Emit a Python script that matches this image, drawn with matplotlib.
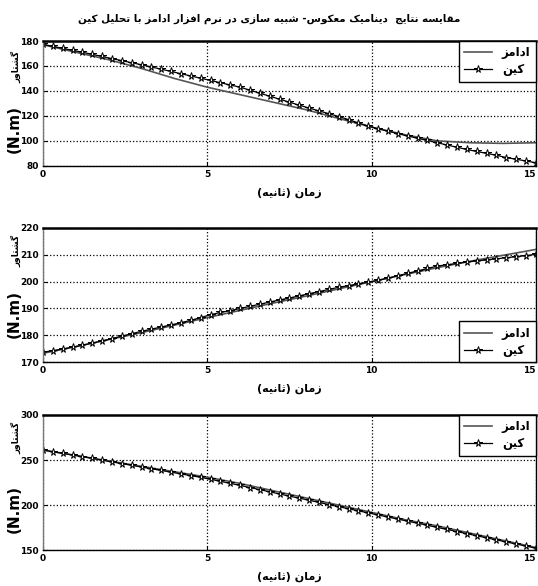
import re
import matplotlib
matplotlib.use('Agg')
import matplotlib.pyplot as plt

# ---- data -----------------------------------------------------------------
t_adams = [0, 1, 2, 3, 4, 5, 6, 7, 8, 9, 10, 11, 12, 13, 14, 15]
t_kane = [round(0.3 * i, 1) for i in range(51)]

adams_1 = [177, 171, 165, 158, 150, 143, 137, 131, 125, 118, 111, 105, 100, 98.5, 98, 98.5]
kane_1 = [177.3, 175.7, 174.1, 172.5, 171.0, 169.3, 167.6, 165.9, 164.3, 162.6, 161.0,
          159.2, 157.4, 155.6, 153.8, 152.0, 150.2, 148.4, 146.6, 144.8, 143.0,
          140.6, 138.2, 135.8, 133.4, 131.0, 128.6, 126.3, 124.0, 121.8, 119.5,
          117.0, 114.4, 111.9, 109.7, 107.8, 105.8, 103.9, 102.1, 100.3, 98.5,
          96.7, 94.9, 93.1, 91.5, 90.0, 88.5, 86.6, 85.3, 83.9, 82.5]

adams_2 = [173.3, 175.8, 178.4, 181, 183.8, 186.6, 189.3, 192, 194.6, 197.3, 200,
           202.6, 205.2, 207.6, 209.8, 212]
kane_2 = [173.7, 174.3, 174.9, 175.6, 176.3, 177.1, 177.9, 178.8, 179.7, 180.6, 181.5,
          182.3, 183.1, 183.9, 184.7, 185.6, 186.6, 187.7, 188.5, 189.2, 190.0,
          190.8, 191.6, 192.4, 193.2, 193.9, 194.7, 195.5, 196.3, 197.1, 197.9,
          198.5, 199.2, 199.8, 200.5, 201.3, 202.2, 203.1, 204.0, 204.9, 205.8,
          206.3, 206.8, 207.3, 207.7, 208.1, 208.5, 208.9, 209.3, 209.7, 210.2]

adams_3 = [261, 255, 249, 243, 237, 231, 224, 216, 208, 200, 192, 184, 177, 169, 161, 153]
kane_3 = [261.0, 259.2, 257.4, 255.6, 253.8, 251.8, 249.8, 247.9, 246.0, 244.1, 242.2,
          240.3, 238.4, 236.5, 234.6, 232.7, 230.8, 228.6, 226.4, 224.1, 221.8,
          219.5, 217.2, 214.8, 212.4, 210.0, 207.7, 205.4, 203.0, 200.6, 198.3,
          196.0, 193.7, 191.4, 189.1, 186.8, 184.5, 182.2, 179.9, 177.6, 175.3,
          173.0, 170.7, 168.4, 166.1, 163.8, 161.5, 159.2, 156.9, 154.6, 152.3]

ylims = [(80, 180), (170, 220), (150, 300)]
yticks = [[80, 100, 120, 140, 160, 180],
          [170, 180, 190, 200, 210, 220],
          [150, 200, 250, 300]]
xticks = [0, 5, 10, 15]
legend_loc = ['upper right', 'lower right', 'upper right']

title_text = 'مقایسه نتایج  دینامیک معکوس- شبیه سازی در نرم افزار ادامز با تحلیل کین'
xlabel_text = 'زمان (ثانیه)'
ylabel_fa = 'گشتاور'
ylabel_unit = '(N.m)'
label_adams = 'ادامز'
label_kane = 'کین'

# ---- minimal persian shaping (matplotlib has no bidi/joining) --------------
FORMS = {
    'ا': ('\uFE8D', '\uFE8E'),
    'د': ('\uFEA9', '\uFEAA'),
    'ر': ('\uFEAD', '\uFEAE'),
    'ز': ('\uFEAF', '\uFEB0'),
    'و': ('\uFEED', '\uFEEE'),
    'ب': ('\uFE8F', '\uFE90', '\uFE91', '\uFE92'),
    'ت': ('\uFE95', '\uFE96', '\uFE97', '\uFE98'),
    'ث': ('\uFE99', '\uFE9A', '\uFE9B', '\uFE9C'),
    'ج': ('\uFE9D', '\uFE9E', '\uFE9F', '\uFEA0'),
    'ح': ('\uFEA1', '\uFEA2', '\uFEA3', '\uFEA4'),
    'س': ('\uFEB1', '\uFEB2', '\uFEB3', '\uFEB4'),
    'ش': ('\uFEB5', '\uFEB6', '\uFEB7', '\uFEB8'),
    'ع': ('\uFEC9', '\uFECA', '\uFECB', '\uFECC'),
    'ف': ('\uFED1', '\uFED2', '\uFED3', '\uFED4'),
    'ق': ('\uFED5', '\uFED6', '\uFED7', '\uFED8'),
    'ل': ('\uFEDD', '\uFEDE', '\uFEDF', '\uFEE0'),
    'م': ('\uFEE1', '\uFEE2', '\uFEE3', '\uFEE4'),
    'ن': ('\uFEE5', '\uFEE6', '\uFEE7', '\uFEE8'),
    'ه': ('\uFEE9', '\uFEEA', '\uFEEB', '\uFEEC'),
    'ی': ('\uFBFC', '\uFBFD', '\uFBFE', '\uFBFF'),
    'ک': ('\uFB8E', '\uFB8F', '\uFB90', '\uFB91'),
    'گ': ('\uFB92', '\uFB93', '\uFB94', '\uFB95'),
}


def fa(text):
    out = []
    for i, c in enumerate(text):
        if c not in FORMS:
            out.append(c)
            continue
        f = FORMS[c]
        prev = text[i - 1] if i > 0 else ''
        nxt = text[i + 1] if i + 1 < len(text) else ''
        jp = prev in FORMS and len(FORMS[prev]) == 4
        jn = len(f) == 4 and nxt in FORMS
        if jp and jn:
            out.append(f[3])
        elif jp:
            out.append(f[1])
        elif jn:
            out.append(f[2])
        else:
            out.append(f[0])
    s = ''.join(out)[::-1].translate(str.maketrans('()', ')('))
    return re.sub(r'[A-Za-z0-9.]+', lambda m: m.group(0)[::-1], s)


# ---- figure ---------------------------------------------------------------
tick_font = ['DejaVu Sans']
fa_font = ['DejaVu Sans']

fig = plt.figure(figsize=(5.38, 5.86), dpi=100)
fig.patch.set_facecolor('white')

axes_pos = [
    [0.080, 0.717, 0.916, 0.213],
    [0.080, 0.382, 0.916, 0.229],
    [0.080, 0.061, 0.916, 0.231],
]
unit_y = [0.780, 0.464, 0.131]
fa_y = [0.885, 0.572, 0.252]

fig.text(0.50, 0.968, fa(title_text), ha='center', va='center',
         fontsize=7.5, fontweight='bold', family=fa_font)

adams_all = [adams_1, adams_2, adams_3]
kane_all = [kane_1, kane_2, kane_3]

for k in range(3):
    ax = fig.add_axes(axes_pos[k])
    ax.plot(t_adams, adams_all[k], color='#555555', lw=1.2, label=fa(label_adams))
    ax.plot(t_kane, kane_all[k], color='black', lw=0.9, marker='*', ms=5.5,
            mfc='white', mec='black', mew=0.7, label=fa(label_kane))
    ax.set_xlim(0, 15)
    ax.set_ylim(*ylims[k])
    ax.set_xticks(xticks)
    ax.set_yticks(yticks[k])
    ax.tick_params(direction='in', length=3, labelsize=6.5, pad=3)
    for lab in ax.get_xticklabels() + ax.get_yticklabels():
        lab.set_fontweight('bold')
        lab.set_family(tick_font)
    ax.get_xticklabels()[-1].set_horizontalalignment('right')
    ax.grid(True, color='black', linestyle=':', linewidth=0.9)
    for sp in ax.spines.values():
        sp.set_linewidth(1.0)
    ax.spines['left'].set_color('#777777')
    ax.spines['top'].set_linewidth(1.8)
    ax.set_xlabel(fa(xlabel_text), fontsize=8, fontweight='bold',
                  family=fa_font, labelpad=6)
    leg = ax.legend(loc=legend_loc[k], prop={'family': fa_font, 'size': 8.5, 'weight': 'bold'},
                    frameon=True, fancybox=False, edgecolor='black', framealpha=1,
                    handlelength=2.4, borderpad=0.45, labelspacing=0.35,
                    borderaxespad=0.0)
    leg.get_frame().set_linewidth(1.0)
    fig.text(0.026, unit_y[k], ylabel_unit, rotation=90, ha='center', va='center',
             fontsize=11, fontweight='bold', family=['DejaVu Sans'])
    fig.text(0.030, fa_y[k], fa(ylabel_fa), rotation=90, ha='center', va='center',
             fontsize=6.5, fontweight='bold', family=fa_font)

fig.savefig('out.png', dpi=100, facecolor='white')
